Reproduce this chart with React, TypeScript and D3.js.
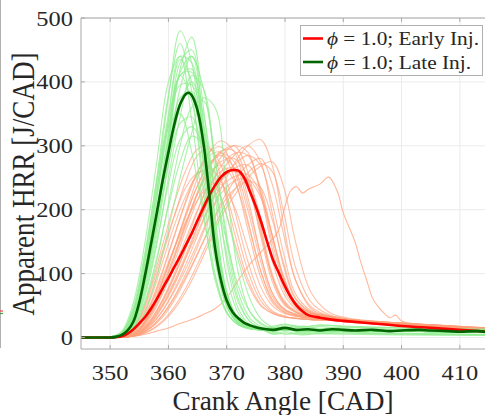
import React from "react";
import * as d3 from "d3";

// ---------- DATA ----------
const xTicks = [350, 360, 370, 380, 390, 400, 410];
const yTicks = [0, 100, 200, 300, 400, 500];
const legendLabels = ["= 1.0; Early Inj.", "= 1.0; Late Inj."];
const xLabel = "Crank Angle [CAD]";
const yLabel = "Apparent HRR [J/CAD]";

// crank angle grids of the individual cycles
const lateGrid = [345, 350, 352, 354, 356, 358, 360, 362, 364, 366, 368, 370, 372, 374, 376, 378, 380, 383, 386, 390, 400, 415];
const earlyGrid = [345, 351, 353, 355, 357, 359, 361, 363, 365, 367, 369, 371.3, 373.6, 375.8, 377.8, 379.8, 381.8, 384.5, 387.5, 391, 401, 415];

const lateCycles = [
  [0, 0, 6, 40, 120, 230, 350, 435, 400, 270, 130, 50, 22, 14, 12, 8, 14, 6, 12, 9, 7, 5],
  [0, 0, 3, 25, 85, 180, 300, 420, 470, 360, 190, 70, 28, 16, 12, 12, 11, 12, 10, 12, 10, 8],
  [0, 1, 8, 45, 130, 250, 380, 460, 385, 230, 100, 40, 20, 14, 12, 14, 18, 15, 17, 14, 12, 10],
  [0, 0, 4, 30, 95, 190, 305, 410, 420, 320, 170, 65, 25, 15, 12, 12, 11, 12, 10, 11, 10, 9],
  [0, 0, 3, 22, 75, 160, 270, 360, 400, 350, 220, 95, 38, 18, 13, 6, 9, 5, 8, 7, 6, 4],
  [0, 0, 5, 35, 110, 220, 340, 440, 430, 300, 150, 55, 22, 14, 12, 11, 12, 11, 10, 12, 10, 8],
  [0, 0, 2, 18, 65, 145, 250, 345, 410, 390, 260, 120, 45, 20, 14, 16, 20, 17, 19, 18, 15, 13],
  [0, 0, 4, 30, 95, 185, 290, 375, 385, 300, 160, 65, 25, 15, 12, 11, 12, 10, 11, 10, 10, 8],
  [0, 0, 2, 15, 55, 120, 210, 300, 360, 370, 280, 150, 60, 25, 15, 12, 11, 12, 11, 10, 10, 8],
  [0, 1, 10, 55, 150, 275, 400, 440, 340, 200, 90, 38, 20, 13, 12, 9, 5, 8, 6, 7, 5, 4],
  [0, 0, 1, 10, 40, 95, 170, 250, 320, 375, 360, 230, 100, 40, 20, 14, 12, 12, 11, 10, 10, 8],
  [0, 0, 4, 28, 90, 175, 270, 335, 345, 280, 160, 70, 28, 16, 12, 11, 12, 10, 11, 10, 10, 8],
  [0, 0, 4, 32, 100, 200, 320, 430, 450, 330, 170, 62, 24, 15, 12, 15, 12, 18, 14, 16, 13, 11],
  [0, 0, 6, 40, 118, 228, 340, 410, 370, 250, 120, 48, 22, 14, 12, 11, 12, 11, 10, 11, 10, 8],
  [0, 0, 3, 24, 80, 170, 280, 390, 440, 390, 280, 160, 70, 30, 17, 13, 12, 11, 12, 11, 10, 8],
  [0, 0, 2, 16, 58, 125, 205, 275, 315, 300, 230, 150, 80, 40, 22, 15, 13, 12, 11, 10, 10, 8],
  [0, 0, 3, 26, 88, 185, 305, 415, 440, 340, 185, 72, 28, 16, 12, 11, 12, 10, 11, 10, 10, 8],
  [0, 1, 7, 42, 125, 240, 375, 480, 430, 280, 130, 50, 22, 14, 12, 5, 7, 4, 6, 5, 4, 3],
  [0, 0, 5, 36, 108, 215, 330, 395, 395, 330, 230, 130, 55, 25, 15, 12, 12, 11, 10, 11, 10, 8],
  [0, 0, 2, 20, 70, 150, 240, 310, 330, 300, 250, 190, 120, 60, 28, 16, 12, 12, 11, 10, 10, 8],
  [0, 0, 4, 30, 98, 195, 315, 410, 415, 310, 160, 60, 24, 15, 12, 18, 21, 16, 20, 17, 15, 12],
  [0, 1, 8, 48, 135, 245, 330, 350, 290, 190, 95, 40, 20, 14, 12, 11, 12, 10, 11, 10, 10, 8],
];

const earlyCycles = [
  [0, 0, 3, 20, 55, 105, 160, 215, 260, 285, 290, 250, 170, 95, 55, 40, 34, 30, 28, 25, 20, 14],
  [0, 0, 2, 12, 38, 78, 125, 175, 225, 265, 290, 300, 260, 170, 95, 55, 40, 33, 30, 26, 20, 13],
  [0, 0, 1, 8, 25, 52, 88, 130, 175, 215, 245, 265, 270, 235, 160, 90, 55, 38, 32, 27, 21, 14],
  [0, 0, 2, 14, 42, 88, 140, 195, 250, 290, 308, 290, 220, 130, 70, 45, 36, 31, 28, 25, 20, 13],
  [0, 0, 1, 6, 20, 42, 72, 108, 148, 190, 225, 245, 248, 220, 160, 95, 55, 38, 32, 27, 21, 14],
  [0, 0, 1, 5, 15, 32, 58, 92, 130, 170, 210, 245, 270, 280, 240, 160, 90, 45, 33, 28, 22, 15],
  [0, 1, 4, 25, 68, 128, 190, 245, 285, 295, 270, 200, 120, 65, 42, 34, 30, 28, 27, 24, 19, 13],
  [0, 0, 2, 10, 32, 68, 110, 155, 200, 238, 260, 265, 235, 165, 95, 55, 40, 33, 30, 26, 20, 13],
  [0, 0, 1, 7, 22, 48, 82, 125, 172, 218, 258, 285, 300, 275, 195, 110, 60, 40, 33, 28, 21, 14],
  [0, 0, 2, 14, 44, 90, 140, 192, 238, 270, 285, 265, 200, 120, 65, 44, 36, 31, 28, 25, 20, 13],
  [0, 0, 3, 18, 50, 95, 140, 182, 215, 238, 240, 205, 140, 80, 50, 38, 33, 30, 28, 25, 20, 13],
  [0, 0, 1, 9, 28, 60, 100, 148, 198, 245, 282, 300, 290, 225, 140, 75, 48, 36, 31, 27, 21, 14],
  [0, 0, 1, 4, 12, 26, 48, 78, 115, 155, 195, 230, 258, 272, 260, 195, 110, 55, 36, 29, 22, 15],
  [0, 1, 5, 28, 75, 135, 190, 235, 258, 258, 220, 150, 85, 50, 38, 32, 30, 28, 27, 24, 19, 13],
  [0, 0, 1, 8, 26, 56, 95, 140, 188, 232, 268, 288, 285, 230, 150, 85, 50, 37, 32, 27, 21, 14],
  [0, 0, 2, 13, 40, 82, 130, 180, 225, 258, 270, 245, 180, 105, 60, 42, 35, 31, 28, 25, 20, 13],
  [0, 0, 1, 6, 19, 42, 75, 115, 160, 205, 245, 270, 285, 270, 210, 130, 68, 42, 34, 28, 22, 14],
  [0, 0, 3, 18, 52, 102, 158, 212, 258, 290, 298, 262, 185, 105, 58, 40, 34, 30, 28, 25, 20, 13],
  [0, 0, 1, 7, 23, 50, 85, 125, 165, 205, 235, 252, 255, 225, 160, 92, 54, 38, 32, 27, 21, 14],
  [0, 0, 2, 11, 35, 72, 118, 168, 215, 252, 275, 280, 250, 175, 100, 58, 42, 34, 30, 26, 20, 13],
  [0, 0, 1, 5, 16, 36, 64, 100, 142, 188, 232, 272, 300, 310, 270, 175, 90, 48, 34, 28, 22, 15],
  [0, 1, 4, 22, 62, 118, 175, 222, 255, 265, 245, 180, 105, 58, 40, 33, 30, 28, 27, 24, 19, 13],
  [0, 0, 1, 5, 16, 35, 62, 95, 132, 170, 205, 232, 245, 235, 185, 115, 62, 40, 33, 28, 22, 14],
  [0, 0, 2, 12, 38, 78, 126, 178, 228, 268, 292, 292, 245, 160, 88, 52, 40, 33, 30, 26, 20, 13],
  [0, 0, 1, 4, 11, 24, 44, 72, 108, 148, 188, 222, 250, 268, 275, 235, 150, 70, 40, 30, 22, 15],
  [0, 0, 2, 14, 43, 88, 138, 190, 238, 272, 288, 275, 210, 130, 70, 45, 37, 32, 29, 25, 20, 13],
  [0, 1, 5, 30, 80, 145, 210, 262, 295, 298, 250, 165, 92, 52, 38, 32, 30, 28, 27, 24, 19, 13],
  [0, 0, 1, 9, 28, 58, 96, 140, 185, 225, 252, 260, 245, 190, 120, 68, 45, 35, 31, 27, 21, 14],
];

// one slow early-injection cycle
const slowCycleX = [345, 350, 354, 356, 358, 360, 362, 364, 366, 368, 370, 372, 374, 376, 378, 379, 380, 381, 382, 383, 384, 386, 387.5, 389, 390, 392, 393, 394, 395, 396, 397, 398, 399, 400, 405, 410, 415];
const slowCycleY = [0, 0, 2, 5, 10, 15, 22, 28, 36, 45, 62, 90, 115, 135, 155, 170, 205, 230, 236, 226, 232, 240, 251, 228, 195, 150, 118, 90, 62, 48, 38, 31, 35, 26, 19, 15, 12];

// ensemble means
const lateMeanX = [345, 348, 350, 351, 352, 353, 354, 355, 356, 357, 358, 359, 360, 361, 362, 363, 363.5, 364, 365, 366, 367, 368, 369, 370, 371, 372, 373, 374, 375, 376, 378, 380, 382, 384, 386, 388, 390, 392, 395, 398, 400, 403, 405, 408, 410, 413, 415];
const lateMeanY = [0, 0, 0, 1, 4, 11, 25, 55, 98, 146, 195, 245, 290, 333, 365, 381, 383, 379, 355, 305, 225, 140, 90, 58, 40, 30, 23, 19, 16, 14, 12, 15, 12, 13, 11, 13, 12, 11, 12, 10, 11, 12, 11, 10, 9, 10, 8];
const earlyMeanX = [345, 348, 350, 352, 353, 354, 355, 356, 357, 358, 359, 360, 361, 362, 363, 364, 365, 366, 367, 368, 369, 370, 371, 372, 373, 374, 375, 376, 377, 378, 379, 380, 381, 382, 383, 384, 386, 388, 390, 395, 400, 405, 410, 415];
const earlyMeanY = [0, 0, 0, 2, 6, 13, 22, 32, 45, 60, 77, 93, 110, 127, 145, 163, 183, 203, 222, 238, 251, 259, 262, 261, 250, 228, 205, 178, 148, 120, 100, 80, 63, 50, 41, 35, 31, 28, 26, 22, 18, 15, 12, 9];

// ---------- LAYOUT ----------
const W = 485;
const H = 415;
const left = 81;
const right = 489;
const top = 18;
const bottom = 349;
const stretch = 1.11;
const serif = "'Liberation Serif', 'Times New Roman', serif";
const textColor = "#262626";

export default function App() {
  const x = d3.scaleLinear().domain([345, 415]).range([left, right]);
  const y = d3.scaleLinear().domain([-18, 500]).range([bottom, top]);
  const line = d3
    .line<[number, number]>()
    .x((d) => x(d[0]))
    .y((d) => y(d[1]))
    .curve(d3.curveCatmullRom.alpha(0.5));
  const toPts = (xs: number[], ys: number[]) => xs.map((v, i) => [v, ys[i]] as [number, number]);

  return (
    <svg
      width={W}
      height={H}
      style={{ position: "absolute", left: 0, top: 0, background: "#fff" }}
    >
      <defs>
        <clipPath id="plotClip">
          <rect x={left} y={top} width={right - left} height={bottom - top} />
        </clipPath>
      </defs>
      <rect x={0} y={0} width={W} height={H} fill="#fff" />

      {/* leftover edge of neighbouring panel */}
      <line x1={0.5} x2={0.5} y1={0} y2={348} stroke="#b0b0b0" strokeWidth={1} />
      <line x1={0} x2={3} y1={311} y2={311} stroke="#ff4040" strokeWidth={1.2} />
      <line x1={0} x2={3} y1={313.5} y2={313.5} stroke="#40a040" strokeWidth={1.2} />

      {/* grid */}
      {xTicks.map((t) => (
        <line key={"gx" + t} x1={x(t)} x2={x(t)} y1={top} y2={bottom} stroke="#ebebeb" strokeWidth={1} />
      ))}
      {yTicks.map((t) => (
        <line key={"gy" + t} x1={left} x2={right} y1={y(t)} y2={y(t)} stroke="#ebebeb" strokeWidth={1} />
      ))}

      <g clipPath="url(#plotClip)" fill="none">
        {earlyCycles.map((c, i) => (
          <path key={"e" + i} d={line(toPts(earlyGrid, c)) || ""} stroke="#ffa07a" strokeOpacity={0.65} strokeWidth={1.1} />
        ))}
        <path d={line(toPts(slowCycleX, slowCycleY)) || ""} stroke="#ffa07a" strokeOpacity={0.75} strokeWidth={1.1} />
        {lateCycles.map((c, i) => (
          <path key={"l" + i} d={line(toPts(lateGrid, c)) || ""} stroke="#90ee90" strokeOpacity={0.75} strokeWidth={1.1} />
        ))}
        <path d={line(toPts(earlyMeanX, earlyMeanY)) || ""} stroke="#ff0000" strokeWidth={2.6} />
        <path d={line(toPts(lateMeanX, lateMeanY)) || ""} stroke="#006400" strokeWidth={2.6} />
      </g>

      {/* axes box */}
      <line x1={left} x2={right} y1={bottom} y2={bottom} stroke="#a8a8a8" strokeWidth={1} />
      <line x1={left} x2={right} y1={top} y2={top} stroke="#a8a8a8" strokeWidth={1} />
      <line x1={left} x2={left} y1={top} y2={bottom} stroke="#a8a8a8" strokeWidth={1} />
      {xTicks.map((t) => (
        <g key={"tx" + t}>
          <line x1={x(t)} x2={x(t)} y1={bottom} y2={bottom - 4} stroke="#a8a8a8" />
          <line x1={x(t)} x2={x(t)} y1={top} y2={top + 4} stroke="#a8a8a8" />
          <text
            transform={`translate(${x(t)},380) scale(${stretch},1)`}
            textAnchor="middle"
            fontFamily={serif}
            fontSize={22}
            fill={textColor}
          >
            {t}
          </text>
        </g>
      ))}
      {yTicks.map((t) => (
        <g key={"ty" + t}>
          <line x1={left} x2={left + 4} y1={y(t)} y2={y(t)} stroke="#a8a8a8" />
          <text
            transform={`translate(73,${y(t) + 7.5}) scale(${stretch},1)`}
            textAnchor="end"
            fontFamily={serif}
            fontSize={22}
            fill={textColor}
          >
            {t}
          </text>
        </g>
      ))}

      {/* axis labels */}
      <text
        x={283}
        y={410}
        textAnchor="middle"
        fontFamily={serif}
        fontSize={27}
        fill={textColor}
        textLength={221}
        lengthAdjust="spacingAndGlyphs"
      >
        {xLabel}
      </text>
      <text
        transform={`translate(34,184) scale(1.15,1) rotate(-90)`}
        textAnchor="middle"
        fontFamily={serif}
        fontSize={27}
        fill={textColor}
        textLength={263}
        lengthAdjust="spacingAndGlyphs"
      >
        {yLabel}
      </text>

      {/* legend */}
      <rect x={300.5} y={25.5} width={182} height={50} fill="#fff" stroke="#b0b0b0" strokeWidth={1} />
      {legendLabels.map((lab, i) => (
        <g key={"lg" + i}>
          <line
            x1={303}
            x2={323}
            y1={38.5 + i * 23.5}
            y2={38.5 + i * 23.5}
            stroke={i === 0 ? "#ff0000" : "#006400"}
            strokeWidth={2.6}
          />
          <text
            x={327}
            y={45 + i * 23.5}
            fontFamily={serif}
            fontSize={19}
            fill={textColor}
            textLength={i === 0 ? 152 : 144}
            lengthAdjust="spacingAndGlyphs"
          >
            <tspan fontStyle="italic">ϕ</tspan> {lab}
          </text>
        </g>
      ))}
    </svg>
  );
}
